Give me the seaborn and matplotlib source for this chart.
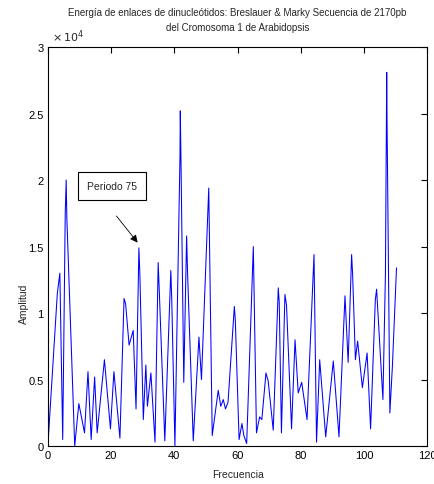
import matplotlib
matplotlib.use("Agg")
import matplotlib.pyplot as plt
import seaborn as sns
import numpy as np

# Data (amplitude in units of 1e4)
freq = [0, 3.0, 3.8, 4.7, 5.5, 5.8, 6.0, 8.5, 9.8, 11.6, 12.7, 13.7, 14.8, 15.6,
        17.9, 19.8, 20.9, 22.8, 24.1, 24.6, 25.7, 27.0, 27.9, 28.8, 29.1, 30.2,
        31.0, 31.5, 32.6, 33.9, 34.9, 35.2, 37.0, 38.9, 39.2, 40.2, 41.8, 41.9,
        42.1, 43.0, 43.9, 44.2, 46.0, 47.8, 48.6, 50.9, 52.0, 53.9, 54.7, 55.5,
        56.2, 57.0, 59.0, 59.3, 60.5, 61.4, 62.0, 62.9, 65.0, 66.0, 67.0, 67.7,
        69.0, 69.7, 71.3, 72.9, 73.2, 73.9, 75.0, 75.5, 77.1, 78.2, 79.2, 80.3,
        82.0, 84.2, 85.0, 86.0, 87.9, 90.3, 92.1, 94.0, 95.0, 96.1, 96.4, 97.3,
        98.0, 99.5, 101.0, 102.1, 103.6, 104.0, 106.0, 106.8, 107.2, 107.3,
        108.2, 109.0, 110.3]
amp = [0, 1.15, 1.30, 0.05, 1.75, 2.0, 1.72, 0.0, 0.32, 0.10, 0.56, 0.05, 0.52, 0.10,
       0.65, 0.13, 0.56, 0.06, 1.11, 1.07, 0.76, 0.87, 0.28, 1.49, 1.30, 0.20,
       0.61, 0.30, 0.55, 0.03, 1.38, 1.20, 0.04, 1.32, 1.10, 0.0, 2.18, 2.52,
       2.18, 0.48, 1.58, 1.30, 0.04, 0.82, 0.50, 1.94, 0.08, 0.42, 0.30, 0.35,
       0.28, 0.33, 1.05, 0.95, 0.05, 0.17, 0.08, 0.02, 1.50, 0.10, 0.22, 0.20,
       0.55, 0.49, 0.12, 1.19, 1.08, 0.10, 1.14, 1.06, 0.13, 0.80, 0.40, 0.48,
       0.20, 1.44, 0.03, 0.65, 0.07, 0.64, 0.07, 1.13, 0.63, 1.44, 1.30, 0.65,
       0.79, 0.44, 0.70, 0.13, 1.10, 1.18, 0.35, 1.30, 2.81, 2.46,
       0.25, 0.60, 1.34]
amp_values = [a * 1e4 for a in amp]

xticks = [0, 20, 40, 60, 80, 100, 120]
yticks = [0, 5000, 10000, 15000, 20000, 25000, 30000]
ytick_labels = ["0", "0.5", "1", "1.5", "2", "2.5", "3"]

title_line1 = "Energía de enlaces de dinucleótidos: Breslauer & Marky Secuencia de 2170pb"
title_line2 = "del Cromosoma 1 de Arabidopsis"

sns.set_style("white")
plt.rcParams['font.family'] = ['Liberation Sans Narrow', 'Liberation Sans', 'DejaVu Sans']

fig = plt.figure(figsize=(4.35, 4.85), dpi=100)
ax = fig.add_axes([0.110, 0.078, 0.872, 0.823])

sns.lineplot(x=freq, y=amp_values, ax=ax, color=(0, 0, 1), linewidth=0.75, sort=False)

ax.set_xlim(0, 120)
ax.set_ylim(0, 30000)
ax.set_xticks(xticks)
ax.set_xticklabels([str(t) for t in xticks])
ax.set_yticks(yticks)
ax.set_yticklabels(ytick_labels)
ax.tick_params(direction='in', length=4, width=0.8, top=True, right=True,
               labelsize=8, colors='black', pad=3)
for s in ax.spines.values():
    s.set_visible(True)
    s.set_color('black')
    s.set_linewidth(0.8)

ax.set_xlabel("Frecuencia", fontsize=7.5, labelpad=6)
ax.set_ylabel("Amplitud", fontsize=7.5)
ax.yaxis.set_label_coords(-0.05, 0.36)

fig.text(0.546, 1 - 13 / 485, title_line1, fontsize=7.0, ha='center', va='center')
fig.text(0.546, 1 - 28 / 485, title_line2, fontsize=7.0, ha='center', va='center')

ax.text(0.012, 1.008, r"$\times\,10^{4}$", transform=ax.transAxes, fontsize=8,
        ha='left', va='bottom')

ax.text(20.3, 19550, "Periodo 75", fontsize=7.5, ha='center', va='center',
        bbox=dict(boxstyle='square,pad=0.85', fc='white', ec='black', lw=0.8))
ax.annotate("", xy=(28.4, 15300), xytext=(21.7, 17300),
            arrowprops=dict(arrowstyle='-|>', color='black', lw=0.6,
                            shrinkA=0, shrinkB=0, mutation_scale=11))

fig.savefig("out.png", dpi=100)
